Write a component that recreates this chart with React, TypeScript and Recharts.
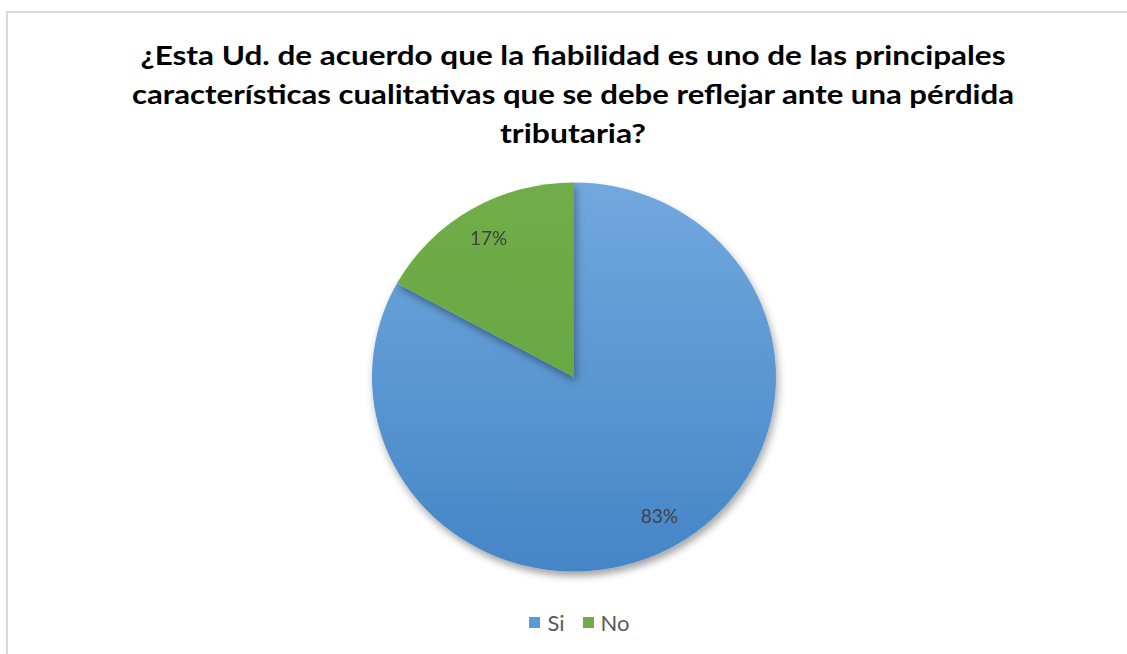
import React from "react";
import { PieChart, Pie, Cell } from "recharts";

const categories = ["Si", "No"];
const values = [83, 17];
const colors = ["url(#blueGrad)", "url(#greenGrad)"];
const legendColors = ["#5b9bd5", "#70ad47"];

const titleLines = [
  "¿Esta Ud. de acuerdo que la fiabilidad es uno de las principales",
  "características cualitativas que se debe reflejar ante una pérdida",
  "tributaria?",
];
const titleWidths = [865, 882, 146];

const data = categories.map((name, i) => ({ name, value: values[i] }));

const RADIAN = Math.PI / 180;

const renderLabel = (props: any) => {
  const { cx, cy, midAngle, outerRadius, percent } = props;
  const r = outerRadius * 0.83;
  const x = cx + r * Math.cos(-midAngle * RADIAN);
  const y = cy + r * Math.sin(-midAngle * RADIAN);
  return (
    <text
      x={x}
      y={y}
      fill="#404040"
      fontSize={19}
      fontFamily="Lato, 'Open Sans', sans-serif"
      textAnchor="middle"
      dominantBaseline="central"
    >
      {Math.round(percent * 100)}%
    </text>
  );
};

export default function App() {
  return (
    <div
      style={{
        position: "absolute",
        left: 0,
        top: 0,
        width: 1127,
        height: 654,
        background: "#fff",
        overflow: "hidden",
        fontFamily: "Lato, 'Open Sans', sans-serif",
      }}
    >
      <div
        style={{
          position: "absolute",
          left: 6,
          top: 11,
          width: 1200,
          height: 700,
          borderTop: "2px solid #d9d9d9",
          borderLeft: "2px solid #d9d9d9",
        }}
      />
      <svg
        width={1127}
        height={160}
        style={{ position: "absolute", left: 0, top: 0 }}
      >
        {titleLines.map((t, i) => (
          <text
            key={i}
            x={573}
            y={65 + i * 39}
            textAnchor="middle"
            fontSize={27}
            fontWeight={700}
            fill="#000"
            textLength={titleWidths[i]}
            lengthAdjust="spacingAndGlyphs"
            fontFamily="Lato, 'Open Sans', sans-serif"
          >
            {t}
          </text>
        ))}
      </svg>
      <div
        style={{
          position: "absolute",
          left: 0,
          top: 0,
          transform: "scale(1, 0.963)",
          transformOrigin: "574px 377px",
        }}
      >
        <PieChart width={1127} height={654}>
          <defs>
            <linearGradient id="blueGrad" x1="0" y1="0" x2="0" y2="1">
              <stop offset="0%" stopColor="#71a8de" />
              <stop offset="100%" stopColor="#4585c6" />
            </linearGradient>
            <linearGradient id="greenGrad" x1="0" y1="0" x2="0" y2="1">
              <stop offset="0%" stopColor="#70ad47" />
              <stop offset="100%" stopColor="#6aa843" />
            </linearGradient>
            <filter id="pieShadow" x="-20%" y="-20%" width="140%" height="140%">
              <feDropShadow dx="2" dy="5" stdDeviation="4" floodColor="#000" floodOpacity="0.35" />
            </filter>
          </defs>
          <Pie
            data={data}
            dataKey="value"
            nameKey="name"
            cx={569}
            cy={372}
            outerRadius={202}
            startAngle={90}
            endAngle={-270}
            stroke="none"
            label={renderLabel}
            labelLine={false}
            isAnimationActive={false}
            style={{ filter: "url(#pieShadow)" }}
          >
            {data.map((d, i) => (
              <Cell key={d.name} fill={colors[i]} />
            ))}
          </Pie>
        </PieChart>
      </div>
      <div
        style={{
          position: "absolute",
          top: 609,
          left: 16,
          width: 1127,
          display: "flex",
          justifyContent: "center",
          gap: 18,
          fontSize: 22,
          color: "#595959",
        }}
      >
        {categories.map((c, i) => (
          <span key={c} style={{ display: "flex", alignItems: "center" }}>
            <span
              style={{
                display: "inline-block",
                width: 11,
                height: 11,
                background: legendColors[i],
                marginRight: 7,
              }}
            />
            {c}
          </span>
        ))}
      </div>
    </div>
  );
}
